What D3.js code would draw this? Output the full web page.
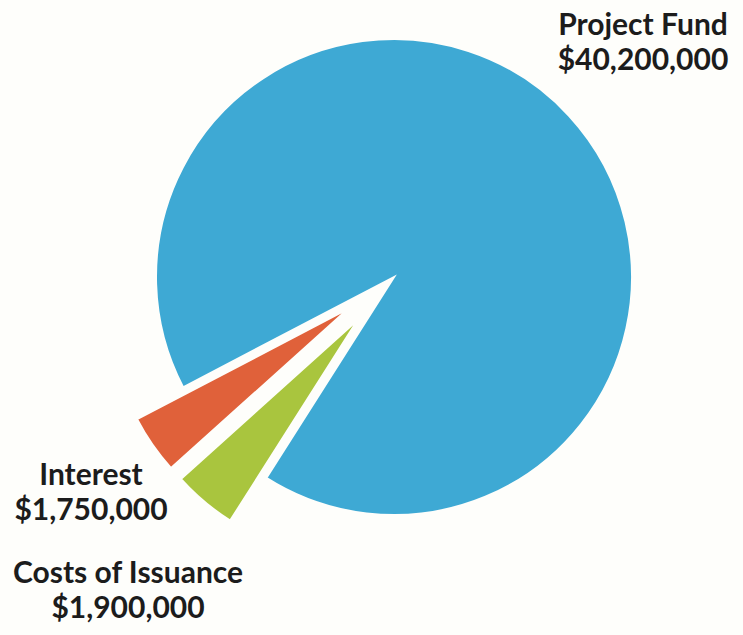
<!DOCTYPE html>
<html>
<head>
<meta charset="utf-8">
<script src="https://cdn.jsdelivr.net/npm/d3@7"></script>
<style>
  html, body { margin: 0; padding: 0; background: #fefefb; }
  svg { display: block; }
  text { font-family: Lato, "Open Sans", sans-serif; font-weight: 700; fill: #1c1c1c; }
</style>
</head>
<body>
<svg id="chart" width="743" height="635"></svg>
<script>
// Bond proceeds allocation
const categories = ["Project Fund", "Costs of Issuance", "Interest"];
const amounts = [40200000, 1900000, 1750000];
const amountLabels = ["$40,200,000", "$1,900,000", "$1,750,000"];
const colors = ["#3ea9d4", "#a9c53e", "#e0613a"];
const exploded = [false, true, true];

const svg = d3.select("#chart");
const cx = 394, cy = 277, radius = 238, pull = 56;

const pie = d3.pie()
  .sort(null)
  .startAngle(242.4 * Math.PI / 180)
  .endAngle((242.4 + 360) * Math.PI / 180);

const arcs = pie(amounts);
const arc = d3.arc().innerRadius(0).outerRadius(radius);

const g = svg.append("g").attr("transform", `translate(${cx},${cy})`);

g.selectAll("path")
  .data(arcs)
  .join("path")
  .attr("d", arc)
  .attr("fill", (d, i) => colors[i])
  .attr("stroke", "#fefefb")
  .attr("stroke-width", 2)
  .attr("transform", (d, i) => {
    if (!exploded[i]) return null;
    const mid = (d.startAngle + d.endAngle) / 2;
    return `translate(${Math.sin(mid) * pull},${-Math.cos(mid) * pull})`;
  });

// Labels
const labels = [
  { i: 0, x: 643, y: 35 },
  { i: 2, x: 91, y: 485 },
  { i: 1, x: 128, y: 583 }
];
labels.forEach(l => {
  const t = svg.append("text")
    .attr("x", l.x).attr("y", l.y)
    .attr("text-anchor", "middle")
    .style("font-size", "30px");
  t.append("tspan").attr("x", l.x).text(categories[l.i]);
  t.append("tspan").attr("x", l.x).attr("dy", 35).text(amountLabels[l.i]);
});
</script>
</body>
</html>
